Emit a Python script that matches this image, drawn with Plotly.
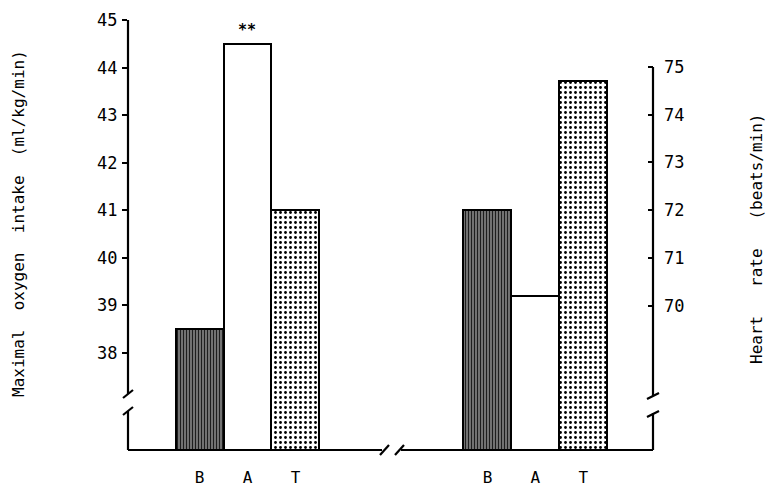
import plotly.graph_objects as go

# ---------------- data ----------------
categories = ["B", "A", "T"]
vo2_values = [38.5, 44.5, 41.0]          # Maximal oxygen intake (ml/kg/min)
hr_values = [72.0, 70.2, 74.7]           # Heart rate (beats/min)
left_positions = [0, 1, 2]
right_positions = [6, 7, 8]
left_ticks = [38, 39, 40, 41, 42, 43, 44, 45]
right_ticks = [70, 71, 72, 73, 74, 75]
significance = "**"

# ---------------- styling ----------------
FONT = "DejaVu Sans Mono"
W, H = 767, 488
ML, MR, MT, MB = 128, 114, 20, 38
PW, PH = W - ML - MR, H - MT - MB

pattern_shapes = ["|", "", "."]
pattern_fg = ["#1e1e1e", "#000000", "#000000"]
pattern_bg = ["#9a9a9a", "#ffffff", "#ffffff"]
pattern_size = [3, 8, 5]
pattern_solid = [0.55, 0.0, 0.25]


def px_x(px):
    return (px - ML) / PW


def px_y(py):
    return (H - MB - py) / PH


fig = go.Figure()

for xs, vals, yax in [(left_positions, vo2_values, "y"), (right_positions, hr_values, "y2")]:
    fig.add_trace(go.Bar(
        x=xs, y=vals, width=[1, 1, 1], yaxis=yax,
        marker=dict(
            color="white",
            line=dict(color="black", width=2),
            pattern=dict(shape=pattern_shapes, fgcolor=pattern_fg, bgcolor=pattern_bg,
                         size=pattern_size, solidity=pattern_solid, fillmode="replace"),
        ),
        showlegend=False, hoverinfo="skip",
    ))

fig.add_annotation(x=left_positions[1], y=vo2_values[1], xref="x", yref="y",
                   text="<b>" + significance + "</b>", showarrow=False, yanchor="bottom",
                   yshift=3, font=dict(family=FONT, size=15, color="black"))

# axis titles
fig.add_annotation(x=px_x(18), y=px_y(224), xref="paper", yref="paper",
                   xanchor="center", yanchor="middle",
                   text="Maximal\u00a0\u00a0oxygen\u00a0\u00a0intake\u00a0\u00a0(ml/kg/min)",
                   textangle=-90, showarrow=False,
                   font=dict(family=FONT, size=16, color="black"))
fig.add_annotation(x=px_x(756), y=px_y(239), xref="paper", yref="paper",
                   xanchor="center", yanchor="middle",
                   text="Heart\u00a0\u00a0\u00a0rate\u00a0\u00a0\u00a0(beats/min)",
                   textangle=-90, showarrow=False,
                   font=dict(family=FONT, size=16, color="black"))

# axis lines with break marks (decorations)
segs = [
    # left axis
    (128, 20, 128, 394), (128, 411, 128, 450),
    (123, 398, 133, 390), (123, 415, 133, 407),
    # right axis
    (653, 67, 653, 396), (653, 413, 653, 450),
    (647, 399, 659, 393), (647, 417, 659, 411),
    # bottom axis
    (128, 450, 382, 450), (401, 450, 653, 450),
    (380, 455, 389, 445), (395, 455, 404, 445),
]
for x0, y0, x1, y1 in segs:
    fig.add_shape(type="line", xref="paper", yref="paper",
                  x0=px_x(x0), y0=px_y(y0), x1=px_x(x1), y1=px_y(y1),
                  line=dict(color="black", width=2.2))

fig.update_layout(
    width=W, height=H,
    margin=dict(l=ML, r=MR, t=MT, b=MB, autoexpand=False),
    paper_bgcolor="white", plot_bgcolor="white",
    font=dict(family=FONT, color="black"),
    xaxis=dict(range=[-1.49, 9.45], tickvals=left_positions + right_positions,
               ticktext=categories + categories, ticks="", showgrid=False,
               zeroline=False, showline=False, tickfont=dict(size=16),
               ticklabelstandoff=16, automargin=False),
    yaxis=dict(range=[35.96, 45], tickvals=left_ticks, ticks="outside", ticklen=5,
               tickwidth=2, tickcolor="black", showgrid=False, zeroline=False,
               showline=False, tickfont=dict(size=17), ticklabelstandoff=1,
               automargin=False),
    yaxis2=dict(range=[66.98, 75.98], tickvals=right_ticks, overlaying="y", side="right",
                ticks="inside", ticklen=5, tickwidth=2, tickcolor="black",
                showgrid=False, zeroline=False, showline=False,
                tickfont=dict(size=17), ticklabelstandoff=10, automargin=False),
    bargap=0,
)

fig.write_html("out.html")
